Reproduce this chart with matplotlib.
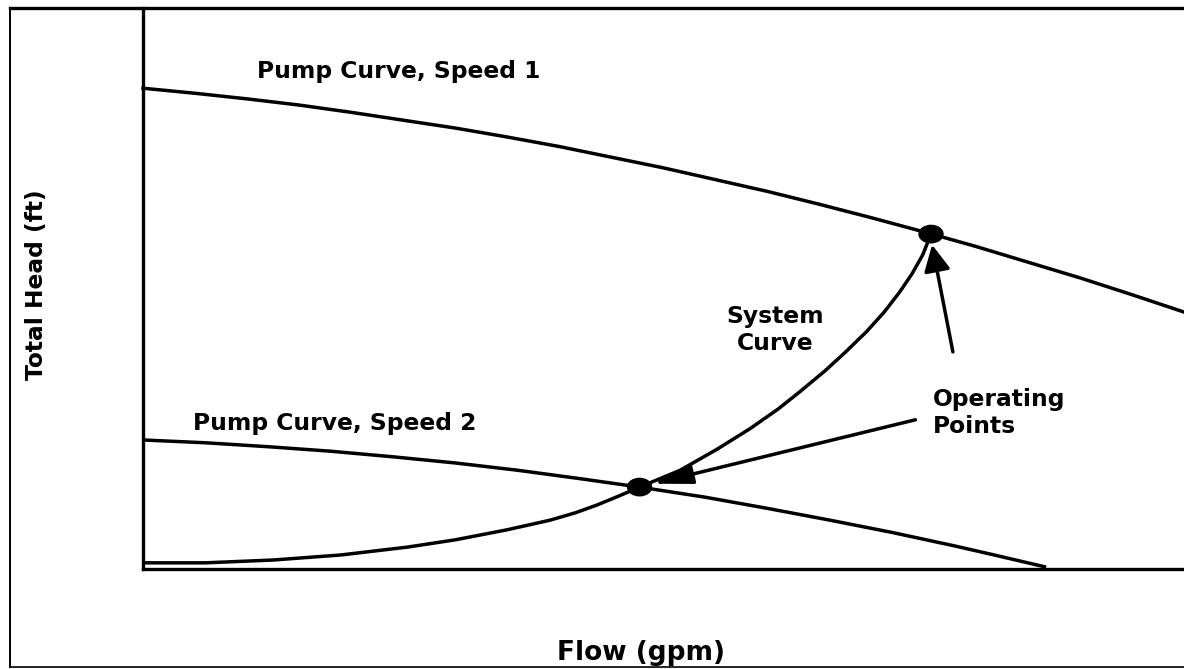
import matplotlib
matplotlib.use("Agg")
import matplotlib.pyplot as plt
from matplotlib.lines import Line2D
from matplotlib.patches import Ellipse

# pump curve at speed 1 (flow, head) - arbitrary units
pump1_flow = [0, 5, 10, 15, 20, 25, 30, 35, 40, 45, 50, 55, 60, 65, 70, 75, 80, 85, 90, 95, 100]
pump1_head = [85.7, 84.8, 83.8, 82.7, 81.4, 80.0, 78.6, 77.0, 75.3, 73.4, 71.5, 69.4,
              67.3, 65.0, 62.6, 60.1, 57.5, 54.7, 51.9, 48.9, 45.8]

# pump curve at speed 2
pump2_flow = [0, 6, 12, 18, 24, 30, 36, 42, 47.7, 54, 60, 66, 72, 78, 82, 86.6]
pump2_head = [23.0, 22.5, 21.8, 21.0, 20.0, 18.9, 17.6, 16.1, 14.6, 12.8, 10.8, 8.7,
              6.5, 4.1, 2.4, 0.4]

# system curve
system_flow = [0, 6, 12.5, 19, 25.4, 30, 35, 39.1, 41.5, 43.6, 45.7, 47.7, 51.6, 55.1,
               58.3, 61, 63.1, 65.5, 67.5, 69.5, 71.2, 72.7, 73.9, 74.9, 75.7]
system_head = [1.1, 1.1, 1.6, 2.5, 3.9, 5.2, 7.0, 8.7, 10.0, 11.4, 13.0, 14.6, 17.6, 21.3,
               25.0, 28.5, 31.6, 35.3, 38.7, 42.3, 45.8, 49.4, 52.7, 56.0, 59.7]

# operating points (where system curve meets each pump curve)
op_flow = [75.7, 47.7]
op_head = [59.7, 14.6]

# labels
lbl_speed1 = "Pump Curve, Speed 1"
lbl_speed2 = "Pump Curve, Speed 2"
lbl_system = "System\nCurve"
lbl_ops = "Operating\nPoints"
x_label = "Flow (gpm)"
y_label = "Total Head (ft)"

W, H = 1184, 669
fig = plt.figure(figsize=(W / 100, H / 100), dpi=100)
fig.patch.set_facecolor("white")

# axes box in pixels: left 143, right 1184, bottom 569, top 8
ax = fig.add_axes([143 / W, (H - 569) / H, (1184 - 143) / W, (569 - 8) / H])
ax.set_xlim(0, 100)
ax.set_ylim(0, 100)
ax.set_xticks([])
ax.set_yticks([])
for s in ["top", "right"]:
    ax.spines[s].set_visible(False)
for s in ["left", "bottom"]:
    ax.spines[s].set_linewidth(2.4)
    ax.spines[s].set_color("black")

lw = 2.5
ax.plot(pump1_flow, pump1_head, color="black", lw=lw, clip_on=False)
ax.plot(pump2_flow, pump2_head, color="black", lw=lw)
ax.plot(system_flow, system_head, color="black", lw=lw)

for fx, hy in zip(op_flow, op_head):
    ax.add_patch(Ellipse((fx, hy), 2.3, 3.1, color="black", zorder=5))

font = dict(family="DejaVu Sans", weight="bold", fontsize=16.8, color="black")
ax.text(10.95, 87.5, lbl_speed1, ha="left", va="baseline", **font)
ax.text(4.8, 24.8, lbl_speed2, ha="left", va="baseline", **font)
ax.text(60.7, 42.6, lbl_system, ha="center", va="center", linespacing=1.2, **font)
ax.text(75.9, 27.8, lbl_ops, ha="left", va="center", linespacing=1.2, **font)

# arrows from the "Operating Points" label to both points
ax.annotate("", xy=(75.8, 57.8), xytext=(77.8, 38.7),
            arrowprops=dict(arrowstyle="-|>,head_length=0.8,head_width=0.4",
                            lw=lw, color="black", mutation_scale=20,
                            shrinkA=0, shrinkB=0))
ax.annotate("", xy=(49.0, 15.2), xytext=(74.2, 26.6),
            arrowprops=dict(arrowstyle="-|>,head_length=1.2,head_width=0.3",
                            lw=lw, color="black", mutation_scale=20,
                            shrinkA=0, shrinkB=0))

fig.text(37 / W, (H - 285) / H, y_label, rotation=90, ha="center", va="center", **font)
fig.text(641 / W, (H - 660) / H, x_label, ha="center", va="baseline",
         family="DejaVu Sans", weight="bold", fontsize=19, color="black")

# outer frame (left, top, bottom)
fx0, fy_top, fy_bot = 10 / W, (H - 8) / H, (H - 667) / H
fig.add_artist(Line2D([fx0, fx0], [fy_bot, fy_top], color="black", lw=1.4))
fig.add_artist(Line2D([fx0, 1.0], [fy_top, fy_top], color="black", lw=2.4))
fig.add_artist(Line2D([fx0, 1.0], [fy_bot, fy_bot], color="black", lw=1.2))

fig.savefig("out.png", dpi=100, facecolor="white")
